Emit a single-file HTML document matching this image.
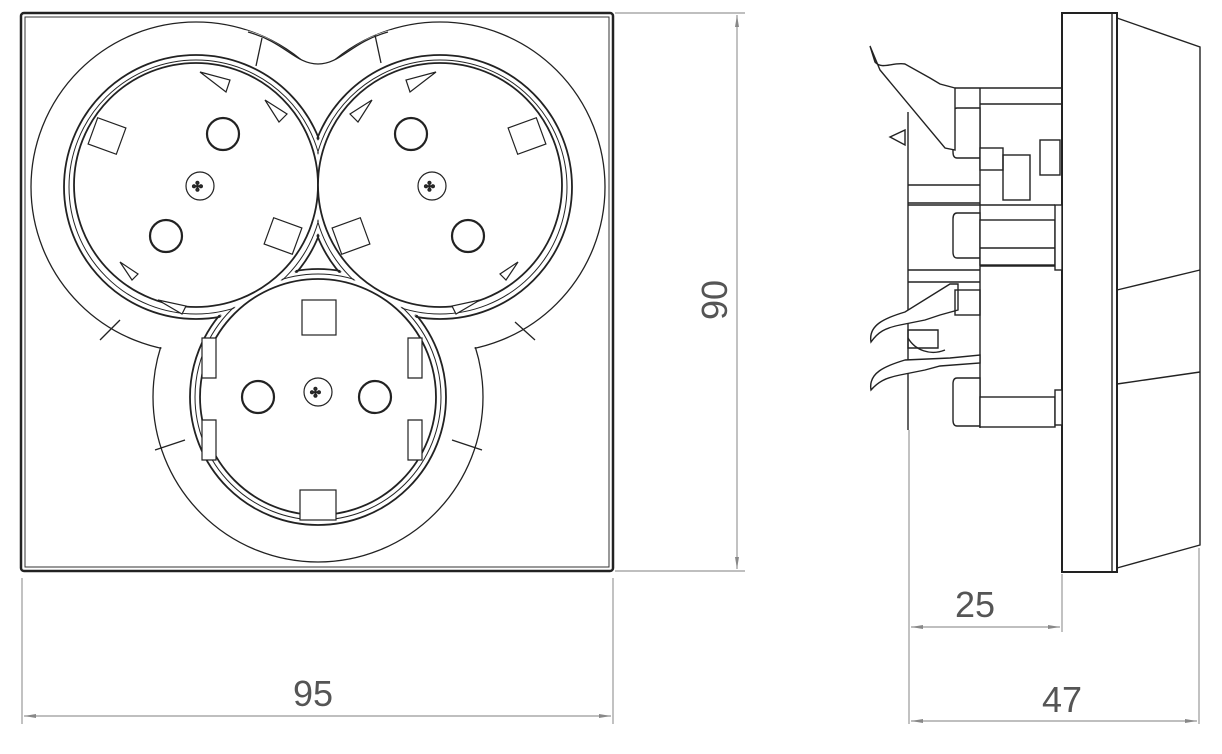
<!DOCTYPE html>
<html><head><meta charset="utf-8"><style>
html,body{margin:0;padding:0;background:#fff;}
svg{display:block}
text{font-family:"Liberation Sans",sans-serif;fill:#555;font-size:36px}
</style></head><body>
<svg width="1222" height="754" viewBox="0 0 1222 754" xmlns="http://www.w3.org/2000/svg">
<defs>
<marker id="a" viewBox="0 0 12 6" refX="12" refY="3" markerWidth="12" markerHeight="6" orient="auto-start-reverse" markerUnits="userSpaceOnUse"><path d="M0,1 L12,3 L0,5z" fill="#888"/></marker>
</defs>
<!-- front plate -->
<rect x="21" y="13" width="592" height="558" rx="3" fill="#fff" stroke="#222" stroke-width="2.5"/>
<rect x="25" y="17" width="584" height="550" fill="none" stroke="#333" stroke-width="1"/>
<g stroke="#222" stroke-width="1.3">
<circle cx="196" cy="187" r="165" fill="none"/><circle cx="440" cy="187" r="165" fill="none"/><circle cx="318" cy="397" r="165" fill="none"/>
<circle cx="196" cy="187" r="164" fill="#fff" stroke="none"/><circle cx="440" cy="187" r="164" fill="#fff" stroke="none"/><circle cx="318" cy="397" r="164" fill="#fff" stroke="none"/>
<!-- top fillet -->
<path d="M245,30 C285,40 295,64 318,64 C341,64 351,40 391,30 L318,90 Z" fill="#fff" stroke="none"/>
<path d="M248,32 C285,42 295,64 318,64 C341,64 351,42 388,32" fill="none"/>
<line x1="262" y1="38" x2="256" y2="66"/><line x1="375" y1="35" x2="381" y2="63"/>
<line x1="100" y1="340" x2="120" y2="320"/><line x1="535" y1="340" x2="515" y2="322"/>
<line x1="155" y1="450" x2="185" y2="440"/><line x1="482" y1="450" x2="452" y2="440"/>
<circle cx="196" cy="187" r="132" fill="none" stroke-width="1.8"/><circle cx="440" cy="187" r="132" fill="none" stroke-width="1.8"/><circle cx="318" cy="397" r="128" fill="none" stroke-width="1.8"/>
<circle cx="196" cy="187" r="130" fill="#fff" stroke="none"/><circle cx="440" cy="187" r="130" fill="#fff" stroke="none"/><circle cx="318" cy="397" r="126" fill="#fff" stroke="none"/>
<circle cx="196" cy="187" r="127" fill="none" stroke-width="1"/><circle cx="440" cy="187" r="127" fill="none" stroke-width="1"/><circle cx="318" cy="397" r="123" fill="none" stroke-width="1"/>
<circle cx="196" cy="187" r="126" fill="#fff" stroke="none"/><circle cx="440" cy="187" r="126" fill="#fff" stroke="none"/><circle cx="318" cy="397" r="122" fill="#fff" stroke="none"/>
<circle cx="196" cy="185" r="122" fill="#fff" stroke-width="1.8"/>
<circle cx="440" cy="185" r="122" fill="#fff" stroke-width="1.8"/>
<circle cx="318" cy="397" r="118" fill="#fff" stroke-width="1.8"/>
<g fill="none" stroke-width="2.2">
<circle cx="223" cy="134" r="16"/><circle cx="166" cy="236" r="16"/>
<circle cx="411" cy="134" r="16"/><circle cx="468" cy="236" r="16"/>
<circle cx="258" cy="397" r="16"/><circle cx="375" cy="397" r="16"/>
</g>
<g fill="none" stroke-width="1.2">
<circle cx="200" cy="186" r="14"/><circle cx="432" cy="186" r="14"/><circle cx="318" cy="392" r="14"/>
</g>
<text x="192" y="191" style="font-size:13px;fill:#333">✣</text><text x="424" y="191" style="font-size:13px;fill:#333">✣</text><text x="310" y="397" style="font-size:13px;fill:#333">✣</text>
<g fill="#fff" stroke-width="1.2">
<rect x="92" y="122" width="30" height="28" transform="rotate(20 107 136)"/>
<rect x="268" y="222" width="30" height="28" transform="rotate(20 283 236)"/>
<rect x="336" y="222" width="30" height="28" transform="rotate(-20 351 236)"/>
<rect x="512" y="122" width="30" height="28" transform="rotate(-20 527 136)"/>
<rect x="302" y="300" width="34" height="35"/>
<rect x="300" y="490" width="36" height="30"/>
<path d="M200,72 l30,8 l-4,12 z M265,100 l22,14 l-8,8z M120,262 l18,12 l-6,6z M158,300 l28,6 l-4,8z"/>
<path d="M436,72 l-30,8 l4,12 z M372,100 l-22,14 l8,8z M518,262 l-18,12 l6,6z M480,300 l-28,6 l4,8z"/>
<path d="M202,338 h14 v40 h-14z M422,338 h-14 v40 h14z M202,420 h14 v40 h-14z M422,420 h-14 v40 h14z"/>
</g>
</g>
<!-- side view -->
<g stroke="#222" stroke-width="1.4" fill="#fff">
<path d="M1117,18 L1200,47 L1200,545 L1117,568 Z"/>
<line x1="1117" y1="290" x2="1200" y2="270"/><line x1="1117" y1="384" x2="1200" y2="372"/>
<rect x="1062" y="13" width="55" height="559" stroke-width="2"/>
<line x1="1112" y1="13" x2="1112" y2="572"/>
<!-- body -->
<line x1="908" y1="112" x2="908" y2="430"/>
<line x1="955" y1="88" x2="1062" y2="88"/>
<line x1="980" y1="104" x2="1062" y2="104"/>
<line x1="980" y1="88" x2="980" y2="428"/>
<line x1="908" y1="185" x2="980" y2="185"/><line x1="908" y1="203" x2="980" y2="203"/>
<line x1="908" y1="205" x2="1055" y2="205"/>
<line x1="908" y1="270" x2="980" y2="270"/><line x1="908" y1="282" x2="980" y2="282"/>
<line x1="980" y1="266" x2="1062" y2="266"/>
<path d="M957,108 h23 v50 h-23 q-4,0 -4,-6 v-38 q0,-6 4,-6z"/>
<rect x="980" y="148" width="23" height="22"/>
<rect x="1003" y="155" width="27" height="45" fill="none"/>
<rect x="1040" y="140" width="20" height="35"/>
<path d="M957,213 h23 v45 h-23 q-4,0 -4,-6 v-33 q0,-6 4,-6z"/>
<rect x="980" y="220" width="75" height="45"/><line x1="980" y1="248" x2="1055" y2="248"/>
<path d="M957,378 h23 v48 h-23 q-4,0 -4,-6 v-36 q0,-6 4,-6z"/>
<rect x="980" y="397" width="75" height="30"/>
<rect x="1055" y="390" width="7" height="35"/><rect x="1055" y="205" width="7" height="65"/>
<!-- top clip -->
<path d="M870,46 L875,62 C882,70 892,62 905,64 L930,78 L940,84 L955,88 L955,150 L945,148 L880,70 Z"/>
<path d="M890,137 L905,130 L905,145 Z"/>
<!-- hooks -->
<path d="M871,342 C868,325 885,318 905,312 L950,284 L958,284 L958,310 L940,315 L925,320 L900,325 C885,328 878,332 871,342 Z"/>
<rect x="955" y="290" width="25" height="25" fill="none"/>
<path d="M908,330 h30 v18 h-30z" fill="none"/>
<path d="M871,390 C868,373 885,366 905,360 L950,358 L980,355 L980,363 L940,366 L925,370 L900,375 C885,378 878,382 871,390 Z"/>
<path d="M908,338 C915,350 930,356 945,350" fill="none"/>
</g>
<!-- dimension & extension lines -->
<g stroke="#999" stroke-width="1.2" fill="none">
<line x1="615" y1="13" x2="745" y2="13"/><line x1="615" y1="571" x2="745" y2="571"/>
<line x1="737" y1="15" x2="737" y2="569" marker-start="url(#a)" marker-end="url(#a)"/>
<line x1="22" y1="578" x2="22" y2="724"/><line x1="613" y1="578" x2="613" y2="724"/>
<line x1="24" y1="716" x2="611" y2="716" marker-start="url(#a)" marker-end="url(#a)"/>
<line x1="909" y1="430" x2="909" y2="724"/><line x1="1062" y1="574" x2="1062" y2="632"/><line x1="1199" y1="548" x2="1199" y2="724"/>
<line x1="911" y1="627" x2="1060" y2="627" marker-start="url(#a)" marker-end="url(#a)"/>
<line x1="911" y1="721" x2="1197" y2="721" marker-start="url(#a)" marker-end="url(#a)"/>
</g>
<text x="313" y="706" text-anchor="middle">95</text>
<text x="975" y="617" text-anchor="middle">25</text>
<text x="1062" y="712" text-anchor="middle">47</text>
<text x="0" y="0" text-anchor="middle" transform="translate(727,300) rotate(-90)">90</text>
</svg>
</body></html>
